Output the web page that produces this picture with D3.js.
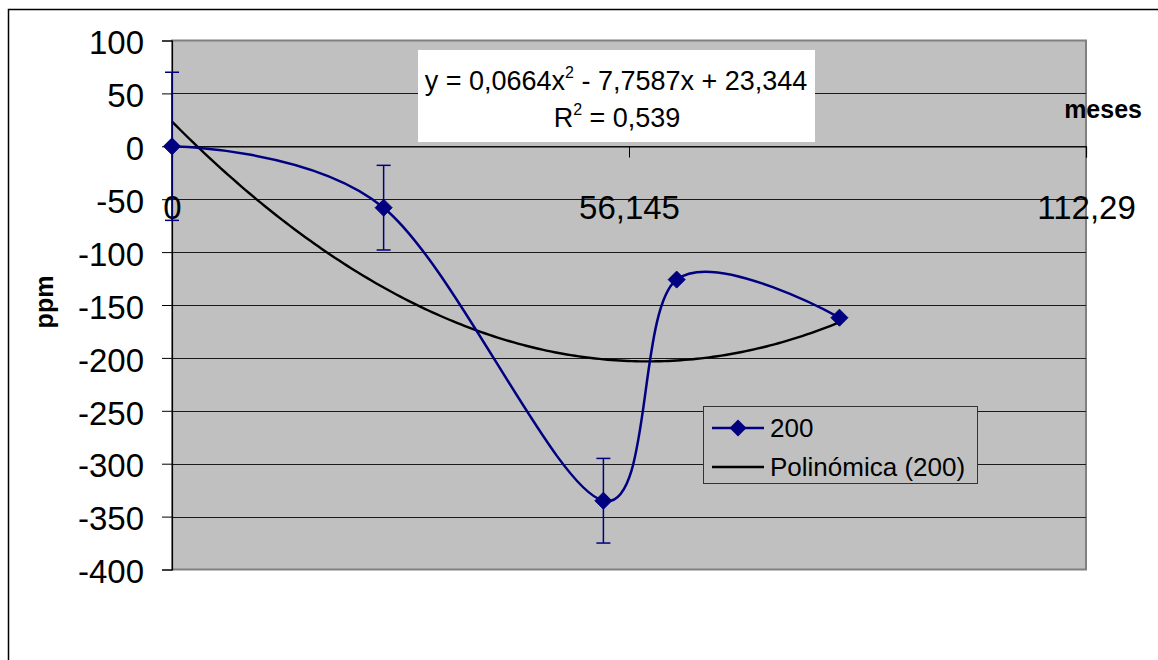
<!DOCTYPE html>
<html><head><meta charset="utf-8">
<script src="https://cdn.jsdelivr.net/npm/d3@7"></script>
<style>
html,body{margin:0;padding:0;background:#fff;}
svg{display:block;font-family:"Liberation Sans",Arial,sans-serif;}
</style></head>
<body><svg id="c" width="1158" height="660"></svg>
<script>
// ---- data ----
const months = [0, 26, 53, 62, 82];
const values = [0, -58, -335, -126, -162];
const errors = [70, 40, 40, 0, 0];
const seriesName = "200";
const trendName = "Polinómica (200)";
const trendCoef = [23.344, -7.7587, 0.0664]; // c0 + c1 x + c2 x^2
const yTicks = [100, 50, 0, -50, -100, -150, -200, -250, -300, -350, -400];
const xTicks = [0, 56.145, 112.29];
const xTickLabels = ["0", "56,145", "112,29"];
const eqLine1 = ["y = 0,0664x", "2", " - 7,7587x + 23,344"];
const eqLine2 = ["R", "2", " = 0,539"];

const svg = d3.select("#c");
const L = 172, R = 1086, T = 40.5, B = 569.5;
const x = d3.scaleLinear().domain([0, 112.29]).range([L, R]);
const y = d3.scaleLinear().domain([-400, 100]).range([B, T]);
const navy = "#000080";

// outer border
svg.append("rect").attr("x", 8.5).attr("y", 9.5).attr("width", 1200).attr("height", 700)
  .attr("fill", "#fff").attr("stroke", "#000").attr("stroke-width", 1.5);

// plot area
svg.append("rect").attr("x", L).attr("y", T).attr("width", R - L).attr("height", B - T)
  .attr("fill", "#c0c0c0").attr("stroke", "#808080").attr("stroke-width", 2);

// gridlines
svg.append("g").selectAll("line").data(yTicks.filter(d => d !== 100 && d !== -400)).join("line")
  .attr("x1", L).attr("x2", R)
  .attr("y1", d => Math.round(y(d)) + 0.5).attr("y2", d => Math.round(y(d)) + 0.5)
  .attr("stroke", "#1a1a1a").attr("stroke-width", 1);

// y axis
const yAxis = d3.axisLeft(y).tickValues(yTicks).tickSize(10).tickPadding(18).tickFormat(d => d);
const ya = svg.append("g").attr("transform", `translate(${L},0)`).call(yAxis);
ya.select(".domain").attr("stroke", "#000").attr("stroke-width", 1.2);
ya.selectAll(".tick line").attr("stroke", "#000");
ya.selectAll(".tick text").attr("font-size", 33).attr("font-family", "Liberation Sans, Arial, sans-serif")
  .attr("fill", "#000").attr("dy", "0.4em");

// x axis at y=0
const xAxis = d3.axisBottom(x).tickValues(xTicks).tickSize(11).tickPadding(38)
  .tickFormat((d, i) => xTickLabels[i]);
const xa = svg.append("g").attr("transform", `translate(0,${Math.round(y(0)) + 0.5})`).call(xAxis);
xa.select(".domain").attr("stroke", "#000").attr("stroke-width", 1.2);
xa.selectAll(".tick line").attr("stroke", "#000");
xa.selectAll(".tick text").attr("font-size", 33).attr("font-family", "Liberation Sans, Arial, sans-serif")
  .attr("fill", "#000").attr("dy", "0.71em");

// trendline
const tx = d3.range(0, 82.001, 0.5);
const trendLine = d3.line().x(d => x(d)).y(d => y(trendCoef[0] + trendCoef[1] * d + trendCoef[2] * d * d));
svg.append("path").attr("d", trendLine(tx)).attr("fill", "none").attr("stroke", "#000").attr("stroke-width", 2.4);

// series
const pts = months.map((m, i) => ({ m, v: values[i], e: errors[i] }));
const line = d3.line().x(d => x(d.m)).y(d => y(d.v)).curve(d3.curveCatmullRom.alpha(0));
svg.append("path").attr("d", line(pts)).attr("fill", "none").attr("stroke", navy).attr("stroke-width", 2.5);

// error bars
const eb = svg.append("g").attr("stroke", navy).attr("stroke-width", 1.5);
pts.filter(d => d.e > 0).forEach(d => {
  eb.append("line").attr("x1", x(d.m)).attr("x2", x(d.m)).attr("y1", y(d.v + d.e)).attr("y2", y(d.v - d.e));
  eb.append("line").attr("x1", x(d.m) - 7).attr("x2", x(d.m) + 7).attr("y1", y(d.v + d.e)).attr("y2", y(d.v + d.e));
  eb.append("line").attr("x1", x(d.m) - 7).attr("x2", x(d.m) + 7).attr("y1", y(d.v - d.e)).attr("y2", y(d.v - d.e));
});

// markers
const diamond = s => `M0,${-s}L${s},0L0,${s}L${-s},0Z`;
svg.append("g").selectAll("path").data(pts).join("path")
  .attr("transform", d => `translate(${x(d.m)},${y(d.v)})`)
  .attr("d", diamond(8.5)).attr("fill", navy).attr("stroke", navy);

// equation box
svg.append("rect").attr("x", 418).attr("y", 50).attr("width", 397).attr("height", 92).attr("fill", "#fff");
function supText(parts, cx, by) {
  const t = svg.append("text").attr("x", cx).attr("y", by).attr("text-anchor", "middle")
    .attr("font-size", 27).attr("fill", "#000");
  t.append("tspan").text(parts[0]);
  t.append("tspan").attr("font-size", 16).attr("dy", -12).text(parts[1]);
  t.append("tspan").attr("dy", 12).text(parts[2]);
}
supText(eqLine1, 616, 90);
supText(eqLine2, 617, 127);

// axis titles
svg.append("text").attr("x", 1142).attr("y", 118).attr("text-anchor", "end")
  .attr("font-size", 25).attr("font-weight", "bold").text("meses");
svg.append("text").attr("transform", "translate(53,302) rotate(-90)").attr("text-anchor", "middle")
  .attr("font-size", 25).attr("font-weight", "bold").text("ppm");

// legend
const lg = svg.append("g");
lg.append("rect").attr("x", 703.5).attr("y", 406.5).attr("width", 274).attr("height", 77)
  .attr("fill", "#c0c0c0").attr("stroke", "#333").attr("stroke-width", 1);
lg.append("line").attr("x1", 712).attr("x2", 764).attr("y1", 428).attr("y2", 428).attr("stroke", navy).attr("stroke-width", 2.5);
lg.append("path").attr("transform", "translate(738,428)").attr("d", diamond(8.5)).attr("fill", navy);
lg.append("text").attr("x", 770).attr("y", 437).attr("font-size", 26).text(seriesName);
lg.append("line").attr("x1", 712).attr("x2", 764).attr("y1", 467).attr("y2", 467).attr("stroke", "#000").attr("stroke-width", 2.4);
lg.append("text").attr("x", 770).attr("y", 476).attr("font-size", 26).text(trendName);
</script></body></html>
